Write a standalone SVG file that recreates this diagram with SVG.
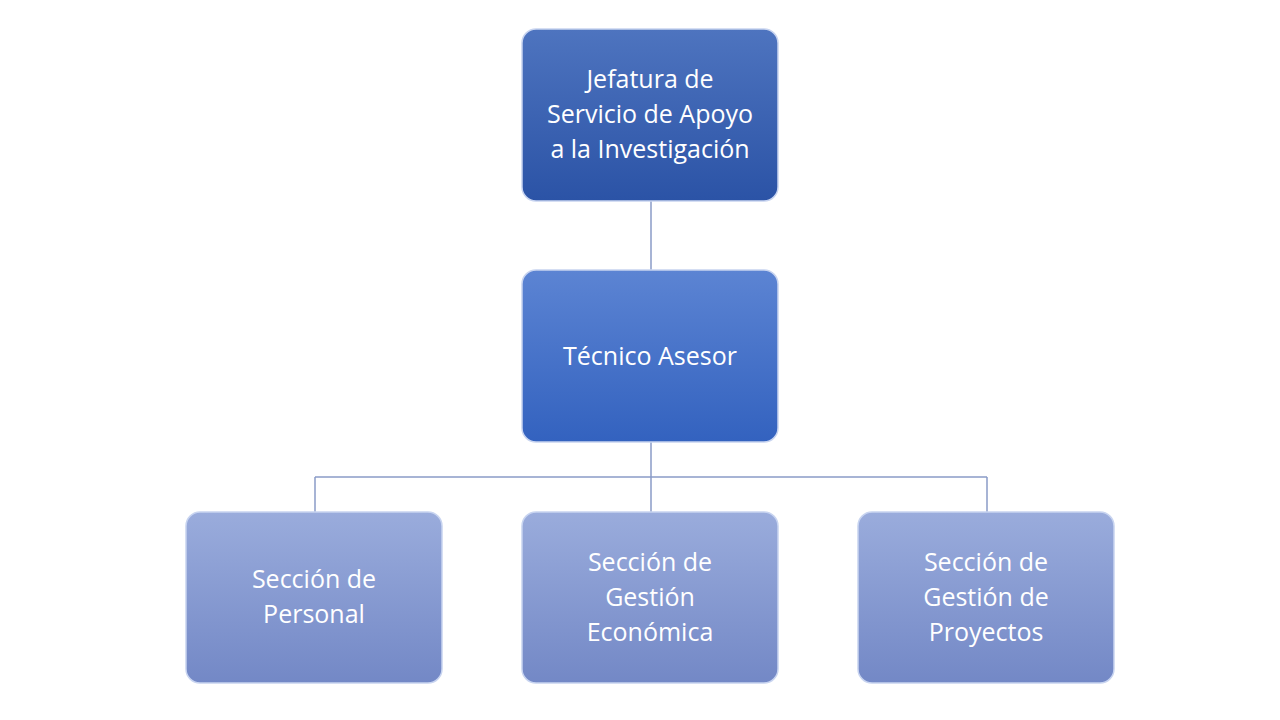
<svg xmlns="http://www.w3.org/2000/svg" width="1280" height="720" viewBox="0 0 1280 720">
<defs>
<linearGradient id="g1" x1="0" y1="0" x2="0" y2="1"><stop offset="0" stop-color="#4e74bf"/><stop offset="1" stop-color="#2b53a6"/></linearGradient>
<linearGradient id="g2" x1="0" y1="0" x2="0" y2="1"><stop offset="0" stop-color="#5c84d3"/><stop offset="1" stop-color="#3362bf"/></linearGradient>
<linearGradient id="g3" x1="0" y1="0" x2="0" y2="1"><stop offset="0" stop-color="#9aacdc"/><stop offset="1" stop-color="#7388c6"/></linearGradient>
<style>
.b{stroke:#c8d4f0;stroke-width:1.5}
.t{font-family:"Open Sans","Liberation Sans",sans-serif;font-size:25px;fill:#fff;text-anchor:middle}
.c{stroke:#8a9cc8;stroke-width:1.5;fill:none}
</style>
</defs>
<rect width="1280" height="720" fill="#fff"/>
<g id="connectors">
<path class="c" d="M651 201V270M651 442V512M315 477H987M315 477V512M987 477V512"/>
</g>
<g id="n1"><rect class="b" x="522" y="29" width="256" height="172" rx="14" fill="url(#g1)"/>
<text class="t" x="650" y="88">Jefatura de</text><text class="t" x="650" y="123">Servicio de Apoyo</text><text class="t" x="650" y="158">a la Investigación</text></g>
<g id="n2"><rect class="b" x="522" y="270" width="256" height="172" rx="14" fill="url(#g2)"/>
<text class="t" x="650" y="365">Técnico Asesor</text></g>
<g id="n3"><rect class="b" x="186" y="512" width="256" height="171" rx="14" fill="url(#g3)"/>
<text class="t" x="314" y="588">Sección de</text><text class="t" x="314" y="623">Personal</text></g>
<g id="n4"><rect class="b" x="522" y="512" width="256" height="171" rx="14" fill="url(#g3)"/>
<text class="t" x="650" y="571">Sección de</text><text class="t" x="650" y="606">Gestión</text><text class="t" x="650" y="641">Económica</text></g>
<g id="n5"><rect class="b" x="858" y="512" width="256" height="171" rx="14" fill="url(#g3)"/>
<text class="t" x="986" y="571">Sección de</text><text class="t" x="986" y="606">Gestión de</text><text class="t" x="986" y="641">Proyectos</text></g>
</svg>
